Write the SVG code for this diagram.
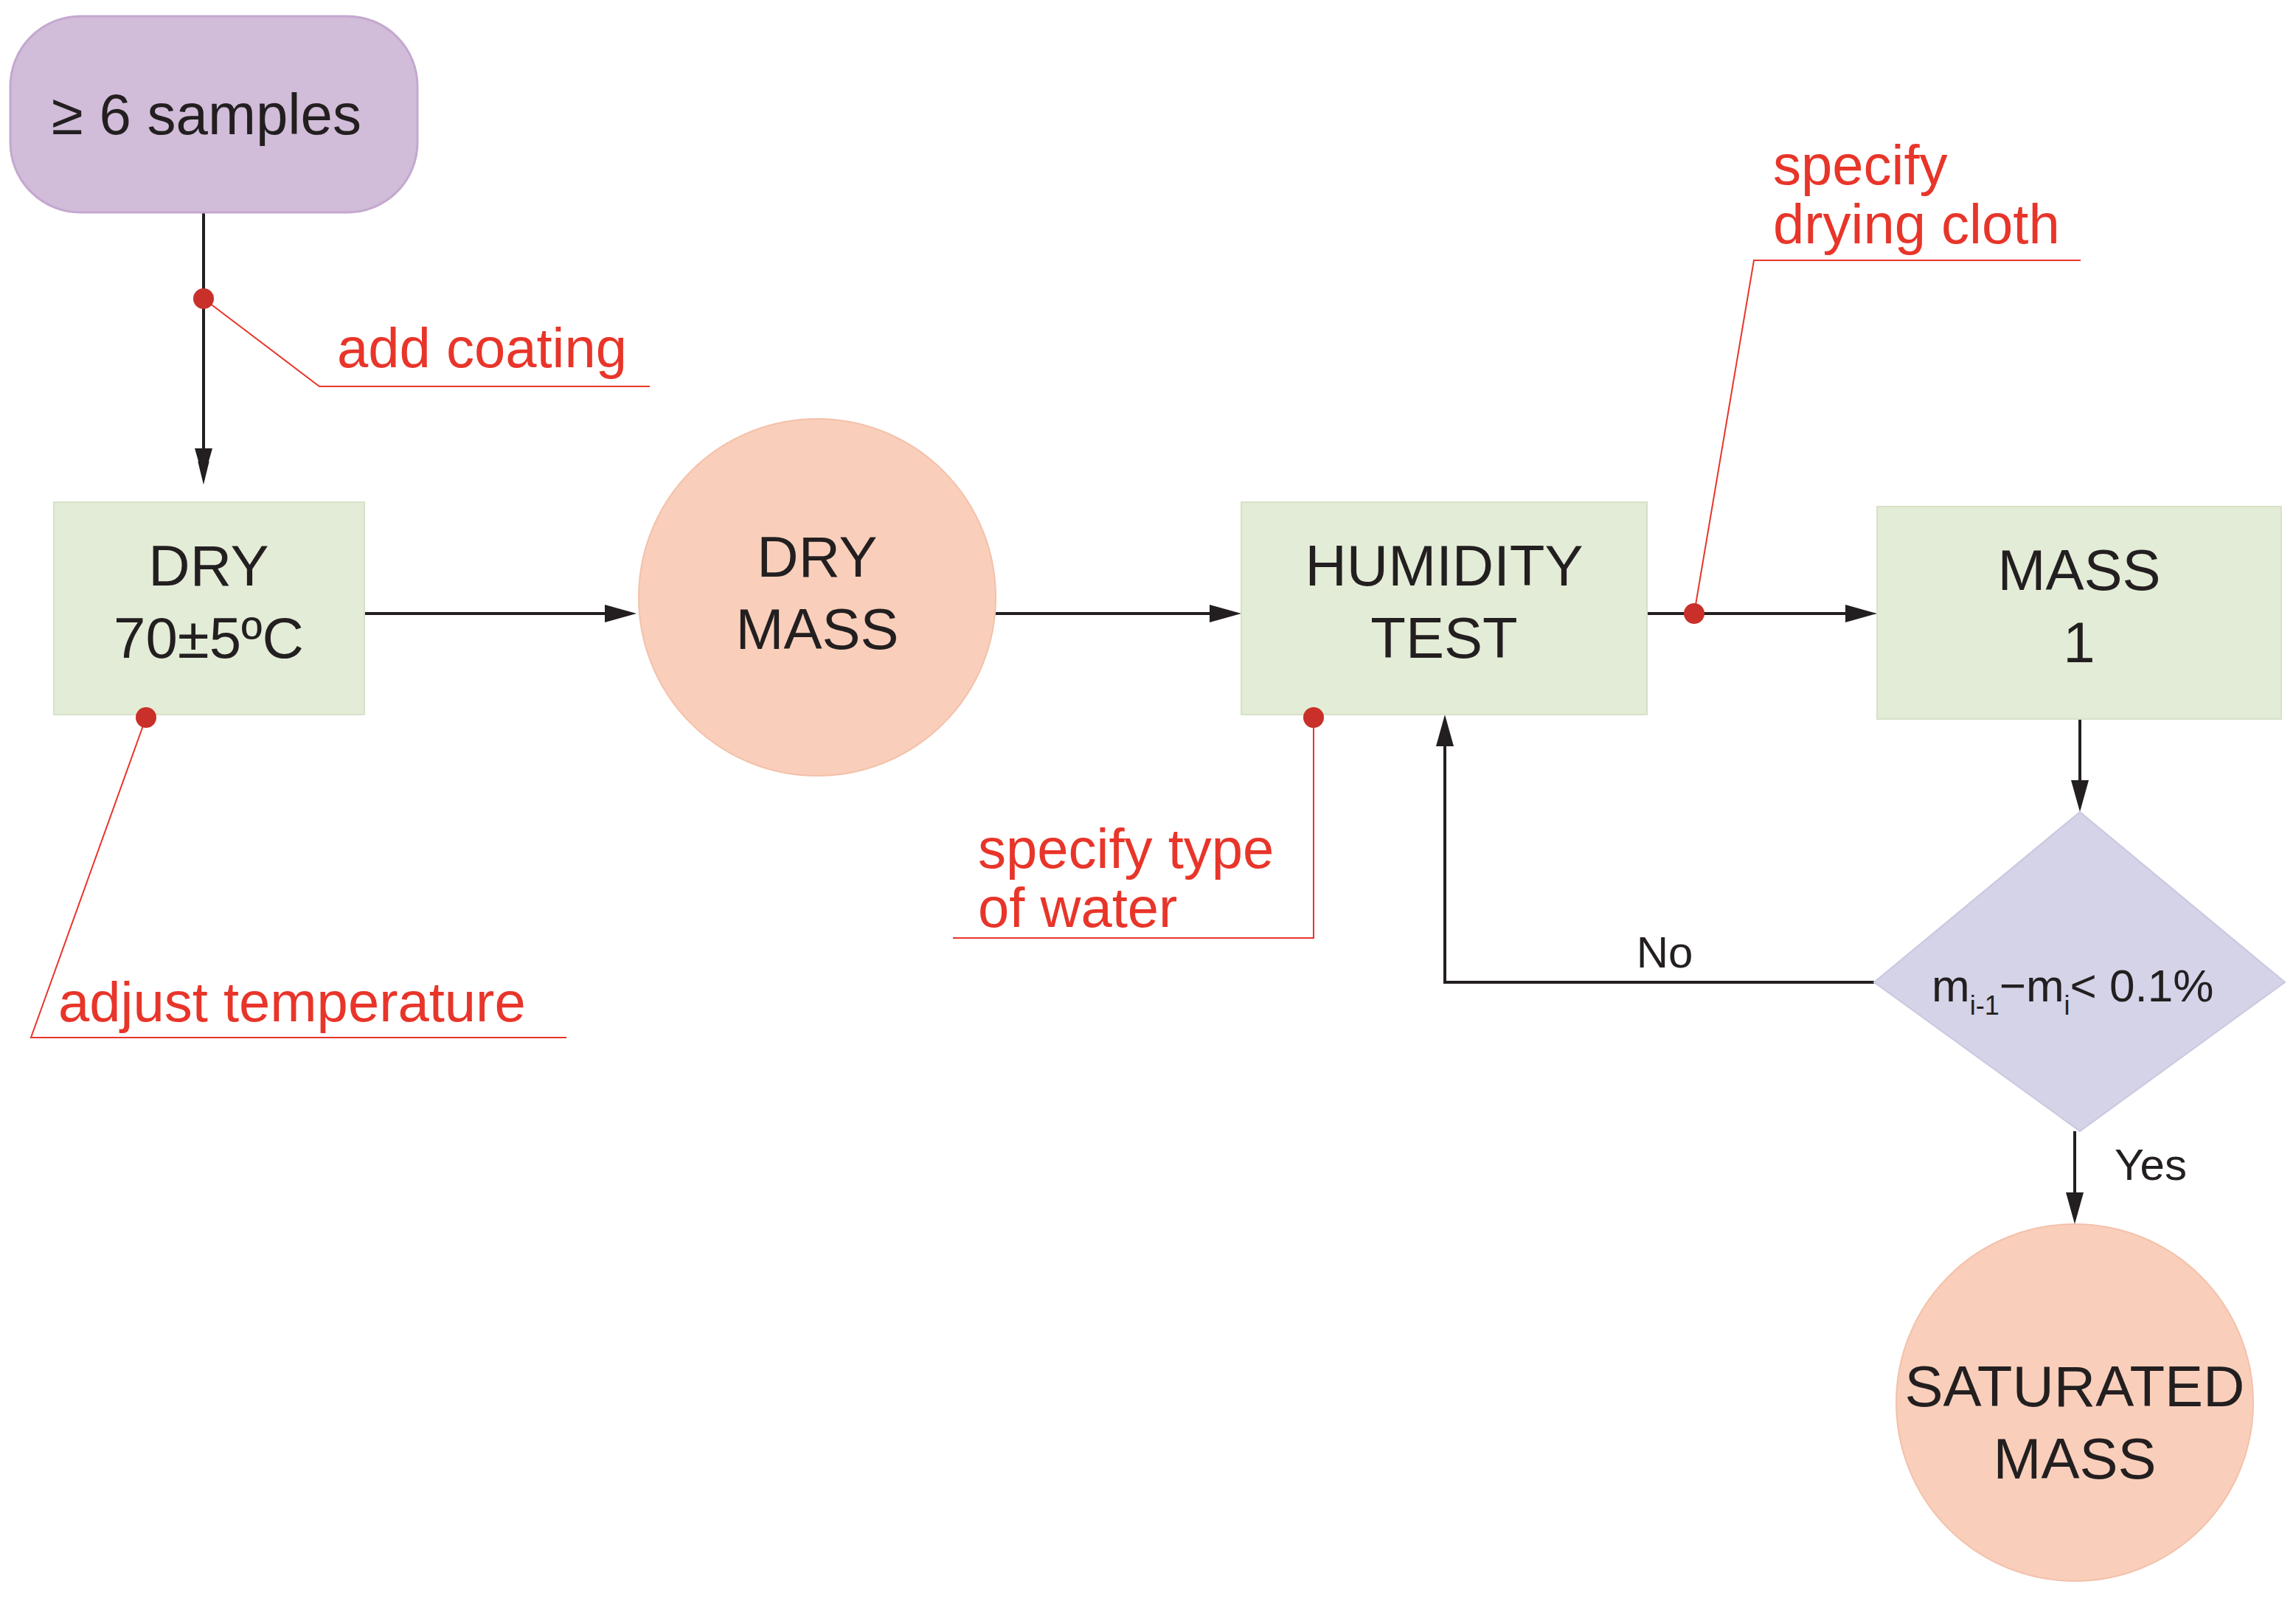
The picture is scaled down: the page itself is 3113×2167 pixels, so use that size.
<svg xmlns="http://www.w3.org/2000/svg" width="3113" height="2167" viewBox="0 0 3113 2167">
<style>
text{font-family:"Liberation Sans",Arial,sans-serif;fill:#231f20}
.n{font-size:78px;text-anchor:middle}
.r{fill:#e8352a;font-size:76px}
.lead{stroke:#e8352a;stroke-width:2;fill:none}
.c{stroke:#231f20;stroke-width:4;fill:none;marker-end:url(#ah)}
.dot{fill:#c9302a}
.box{fill:#e3ecd6;stroke:#d6e2c6;stroke-width:2}
.circ{fill:#f9cfbb;stroke:#f3c1aa;stroke-width:2}
</style>
<defs><marker id="ah" viewBox="0 0 10 10" refX="10" refY="5" markerWidth="10" markerHeight="7" markerUnits="userSpaceOnUse" orient="auto" style="overflow:visible"><path d="M0,0 L10,5 L0,10 z" fill="#231f20" transform="scale(4.5,2.2) translate(-5.5,-2.7)"/></marker></defs>
<rect width="3113" height="2167" fill="#fff"/>
<g id="connectors">
<path class="c" d="M276,288 V650" marker-end="none"/>
<polygon points="264,608 288,608 276,650" fill="#231f20"/>
<path d="M494,832 H820" stroke="#231f20" stroke-width="4"/><polygon points="820,820 863,832 820,844" fill="#231f20"/>
<path d="M1350,832 H1640" stroke="#231f20" stroke-width="4"/><polygon points="1640,820 1683,832 1640,844" fill="#231f20"/>
<path d="M2233,832 H2502" stroke="#231f20" stroke-width="4"/><polygon points="2502,820 2545,832 2502,844" fill="#231f20"/>
<path d="M2820,975 V1058" stroke="#231f20" stroke-width="4"/><polygon points="2808,1058 2832,1058 2820,1101" fill="#231f20"/>
<path d="M2813,1534 V1617" stroke="#231f20" stroke-width="4"/><polygon points="2801,1617 2825,1617 2813,1660" fill="#231f20"/>
<path d="M2541,1332 H1959 V1012" stroke="#231f20" stroke-width="4" fill="none"/><polygon points="1947,1012 1971,1012 1959,969" fill="#231f20"/>
<text x="2257" y="1312" font-size="60" text-anchor="middle">No</text>
<text x="2916" y="1600" font-size="60" text-anchor="middle">Yes</text>
</g>
<g id="start"><rect x="14" y="22" width="552" height="266" rx="95" fill="#d1bcd9" stroke="#c4a8cf" stroke-width="3"/><text class="n" x="280" y="182">≥ 6 samples</text></g>
<g id="dry"><rect class="box" x="73" y="681" width="421" height="288"/><text class="n" x="283" y="794">DRY</text><text class="n" x="283" y="892">70±5ºC</text></g>
<g id="drymass"><circle class="circ" cx="1108" cy="810" r="242"/><text class="n" x="1108" y="782">DRY</text><text class="n" x="1108" y="880">MASS</text></g>
<g id="humidity"><rect class="box" x="1683" y="681" width="550" height="288"/><text class="n" x="1958" y="794">HUMIDITY</text><text class="n" x="1958" y="892">TEST</text></g>
<g id="mass1"><rect class="box" x="2545" y="687" width="548" height="288"/><text class="n" x="2819" y="800">MASS</text><text class="n" x="2819" y="898">1</text></g>
<g id="decision"><polygon points="2820,1101 3098,1332 2820,1534 2541,1332" fill="#d4d3e8" stroke="#c9c8df" stroke-width="2"/><text x="2619" y="1358" font-size="62">m<tspan font-size="36" dy="18">i-1</tspan><tspan dy="-18">−m</tspan><tspan font-size="36" dy="18">i</tspan><tspan dy="-18">&lt; 0.1%</tspan></text></g>
<g id="saturated"><circle class="circ" cx="2813" cy="1902" r="242"/><text class="n" x="2813" y="1907">SATURATED</text><text class="n" x="2813" y="2005">MASS</text></g>
<g id="notes">
<path class="lead" d="M276,405 L433,524 H881"/><circle class="dot" cx="276" cy="405" r="14"/><text class="r" x="457" y="498">add coating</text>
<path class="lead" d="M198,973 L42,1407 H768"/><circle class="dot" cx="198" cy="973" r="14"/><text class="r" x="79" y="1385">adjust temperature</text>
<path class="lead" d="M1781,973 V1272 H1292"/><circle class="dot" cx="1781" cy="973" r="14"/><text class="r" x="1326" y="1177">specify type</text><text class="r" x="1326" y="1257">of water</text>
<path class="lead" d="M2297,832 L2378,353 H2821"/><circle class="dot" cx="2297" cy="832" r="14"/><text class="r" x="2404" y="250">specify</text><text class="r" x="2404" y="330">drying cloth</text>
</g>
</svg>
